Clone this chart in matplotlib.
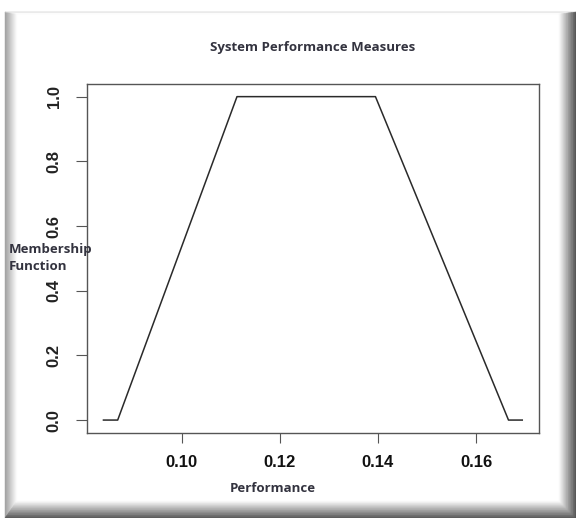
import matplotlib
matplotlib.use("Agg")
import matplotlib.pyplot as plt
from matplotlib.patches import Polygon

# trapezoidal membership function
performance = [0.0841, 0.0870, 0.1113, 0.1395, 0.1666, 0.1694]
membership = [0.0, 0.0, 1.0, 1.0, 0.0, 0.0]

x_ticks = [0.10, 0.12, 0.14, 0.16]
x_labels = ["0.10", "0.12", "0.14", "0.16"]
y_ticks = [0.0, 0.2, 0.4, 0.6, 0.8, 1.0]
y_labels = ["0.0", "0.2", "0.4", "0.6", "0.8", "1.0"]

W, H = 576, 518
fig = plt.figure(figsize=(W / 100, H / 100), dpi=100)
fig.patch.set_facecolor("white")

# bevelled picture frame, drawn in pixel coordinates
bg = fig.add_axes([0, 0, 1, 1])
bg.set_xlim(0, W)
bg.set_ylim(H, 0)
bg.axis("off")

L, T, R, B = 5, 12, 576, 518
wl, wt, wr, wb = 12, 2, 17, 17
n = 24
for i in range(n):
    s0, s1 = i / n, (i + 1) / n
    r0 = (L + s0 * wl, T + s0 * wt, R - s0 * wr, B - s0 * wb)
    r1 = (L + s1 * wl, T + s1 * wt, R - s1 * wr, B - s1 * wb)
    # left
    g = 0.62 + 0.38 * s0
    bg.add_patch(Polygon([(r0[0], r0[1]), (r1[0], r1[1]), (r1[0], r1[3]), (r0[0], r0[3])],
                         closed=True, color=(g, g, g), lw=0.3))
    # top
    g = 0.86 + 0.14 * s0
    bg.add_patch(Polygon([(r0[0], r0[1]), (r0[2], r0[1]), (r1[2], r1[1]), (r1[0], r1[1])],
                         closed=True, color=(g, g, g), lw=0.3))
    # right
    g = 0.30 + 0.70 * s0
    bg.add_patch(Polygon([(r0[2], r0[1]), (r0[2], r0[3]), (r1[2], r1[3]), (r1[2], r1[1])],
                         closed=True, color=(g, g, g), lw=0.3))
    # bottom
    g = 0.32 + 0.68 * s0
    bg.add_patch(Polygon([(r0[0], r0[3]), (r0[2], r0[3]), (r1[2], r1[3]), (r1[0], r1[3])],
                         closed=True, color=(g, g, g), lw=0.3))

# plot region: x 86.7..539, y 83.7..433 (pixels from top)
ax = fig.add_axes([86.7 / W, 1 - 433 / H, (539 - 86.7) / W, (433 - 83.7) / H])
ax.patch.set_alpha(0)
ax.plot(performance, membership, color="#2a2a2a", lw=1.1)

xmin, xmax = min(performance), max(performance)
pad = 0.04 * (xmax - xmin)
ax.set_xlim(xmin - pad, xmax + pad)
ax.set_ylim(-0.04, 1.04)

ax.set_xticks(x_ticks)
ax.set_xticklabels(x_labels, fontsize=12, fontweight="bold", family="Liberation Sans", color="#111111")
ax.set_yticks(y_ticks)
ax.set_yticklabels(y_labels, fontsize=12, fontweight="bold", family="Liberation Sans",
                   rotation=90, va="center", color="#222222")
ax.tick_params(axis="x", length=7, width=0.8, color="#555555", pad=9)
ax.tick_params(axis="y", length=8, width=0.8, color="#555555", pad=10)
for sp in ax.spines.values():
    sp.set_color("#555555")
    sp.set_linewidth(1.0)

txt = dict(family="Open Sans", fontweight="bold", color="#33333f", fontsize=9.5)
fig.text(313 / W, 1 - 47.5 / H, "System Performance Measures", ha="center", va="center", **txt)
fig.text(273 / W, 1 - 488 / H, "Performance", ha="center", va="center", **txt)
fig.text(9 / W, 1 - 250 / H, "Membership", ha="left", va="center", **txt)
fig.text(9 / W, 1 - 267 / H, "Function", ha="left", va="center", **txt)

fig.savefig("out.png", dpi=100)
